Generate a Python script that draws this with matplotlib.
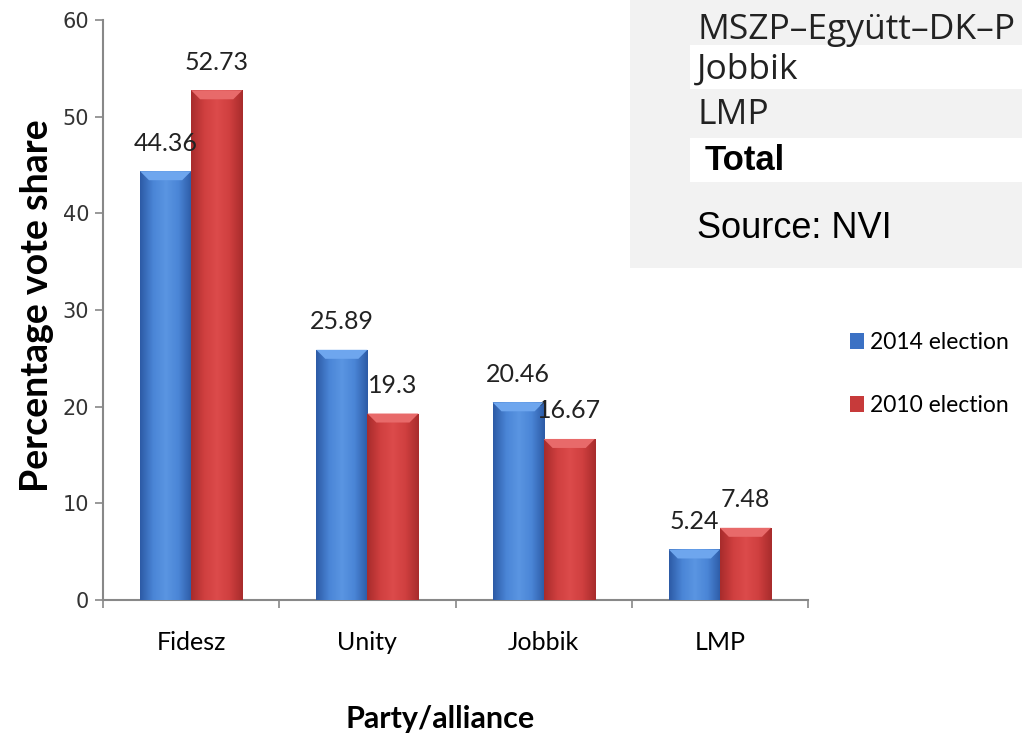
import numpy as np
import matplotlib
matplotlib.use("Agg")
import matplotlib.pyplot as plt
from matplotlib.patches import Rectangle, Polygon
from matplotlib.colors import LinearSegmentedColormap

# data
parties = ["Fidesz", "Unity", "Jobbik", "LMP"]
votes_2014 = [44.36, 25.89, 20.46, 5.24]
votes_2010 = [52.73, 19.3, 16.67, 7.48]
label_2014 = "2014 election"
label_2010 = "2010 election"
value_labels_2014 = ["44.36", "25.89", "20.46", "5.24"]
value_labels_2010 = ["52.73", "19.3", "16.67", "7.48"]
table_rows = ["MSZP\u2013Együtt\u2013DK\u2013P", "Jobbik", "LMP", "Total"]
source_text = "Source: NVI"

blue = "#3b71c4"
red = "#c73a3a"
blue_grad = LinearSegmentedColormap.from_list("b", ["#2d5ba6", "#4a85d6", "#5a95e2", "#4a85d6", "#2d5ba6"])
red_grad = LinearSegmentedColormap.from_list("r", ["#a82c2c", "#cf3f3f", "#dc4b4b", "#cf3f3f", "#a82c2c"])
blue_top = "#6ea6ee"
red_top = "#e86a6a"

fig = plt.figure(figsize=(10.22, 7.4), dpi=100)
ax = fig.add_axes([0.1008, 0.189, 0.6898, 0.784])

x = np.arange(len(parties))
w = 0.29
b1 = ax.bar(x - w / 2, votes_2014, w, color=blue, label=label_2014, zorder=2)
b2 = ax.bar(x + w / 2, votes_2010, w, color=red, label=label_2010, zorder=2)

ax.set_xlim(-0.5, 3.5)
ax.set_ylim(0, 60)

# shaded look: horizontal gradient + lighter bevel on top
grad = np.linspace(0, 1, 64).reshape(1, -1)
inv = ax.transData.inverted()
for bars, cmap, topc in [(b1, blue_grad, blue_top), (b2, red_grad, red_top)]:
    for p in bars:
        x0, y0 = p.get_x(), p.get_y()
        x1, y1 = x0 + p.get_width(), y0 + p.get_height()
        im = ax.imshow(grad, cmap=cmap, aspect="auto", extent=(x0, x1, y0, y1),
                       zorder=3, interpolation="bicubic")
        im.set_clip_path(p)
        (dx0, dy0), (dx1, dy1) = ax.transData.transform([(x0, y0), (x1, y1)])
        d = 9
        pts = inv.transform([(dx0, dy1), (dx1, dy1), (dx1 - d, dy1 - d), (dx0 + d, dy1 - d)])
        ax.add_patch(Polygon(pts, closed=True, facecolor=topc, edgecolor="none", zorder=4))

for bars, labs in [(b1, value_labels_2014), (b2, value_labels_2010)]:
    for p, t in zip(bars, labs):
        ax.annotate(t, (p.get_x() + p.get_width() / 2, p.get_height()),
                    xytext=(0, 12), textcoords="offset points", ha="center", va="bottom",
                    fontsize=18, family="Lato", color="#222222")

ax.set_ylim(0, 60)
ax.set_xlim(-0.5, 3.5)
ax.set_yticks(range(0, 61, 10))
ax.set_xticks(x)
ax.set_xticklabels(parties, family="Lato", fontsize=18)
ax.set_xticks(np.arange(-0.5, 3.6, 1), minor=True)
ax.tick_params(axis="x", which="major", length=0, pad=22)
ax.tick_params(axis="x", which="minor", length=6, color="#888888", width=1.2)
ax.tick_params(axis="y", length=6, color="#888888", width=1.2, labelsize=15,
               labelcolor="#333333", pad=4)
for lab in ax.get_yticklabels():
    lab.set_family("DejaVu Sans")
for s in ["top", "right"]:
    ax.spines[s].set_visible(False)
for s in ["left", "bottom"]:
    ax.spines[s].set_color("#888888")
    ax.spines[s].set_linewidth(1.5)

ax.set_ylabel("Percentage vote share", family="Lato", fontweight="bold", fontsize=27)
ax.yaxis.set_label_coords(-0.07, 0.507)
ax.set_xlabel("Party/alliance", family="Lato", fontweight="bold", fontsize=22)
ax.xaxis.set_label_coords(0.478, -0.18)

ax.legend(loc="center left", bbox_to_anchor=(1.03, 0.39), frameon=False,
          prop={"family": "Lato", "size": 16.5}, handlelength=0.6, handleheight=0.7,
          handletextpad=0.3, labelspacing=1.85)

# grey table fragment at top right
fig.patches.append(Rectangle((630 / 1022, 1 - 268 / 740), 392 / 1022, 268 / 740,
                             transform=fig.transFigure, facecolor="#f2f2f2",
                             edgecolor="none", zorder=0))
for top in (45, 138):
    fig.patches.append(Rectangle((690 / 1022, 1 - (top + 44) / 740), 332 / 1022, 44 / 740,
                                 transform=fig.transFigure, facecolor="white",
                                 edgecolor="none", zorder=1))
row_y = [30, 70, 115, 160]
for t, yy in zip(table_rows, row_y):
    if t == "Total":
        fig.text(705 / 1022, 1 - yy / 740, t, family="Liberation Sans", fontweight="bold",
                 fontsize=25, va="center", ha="left", color="black")
    else:
        fig.text(697 / 1022, 1 - yy / 740, t, family="Open Sans", fontsize=25.5,
                 va="center", ha="left", color="#222222")
fig.text(697 / 1022, 1 - 228 / 740, source_text, family="Liberation Sans", fontsize=26,
         va="center", ha="left", color="black")

fig.savefig("out.png", dpi=100)
